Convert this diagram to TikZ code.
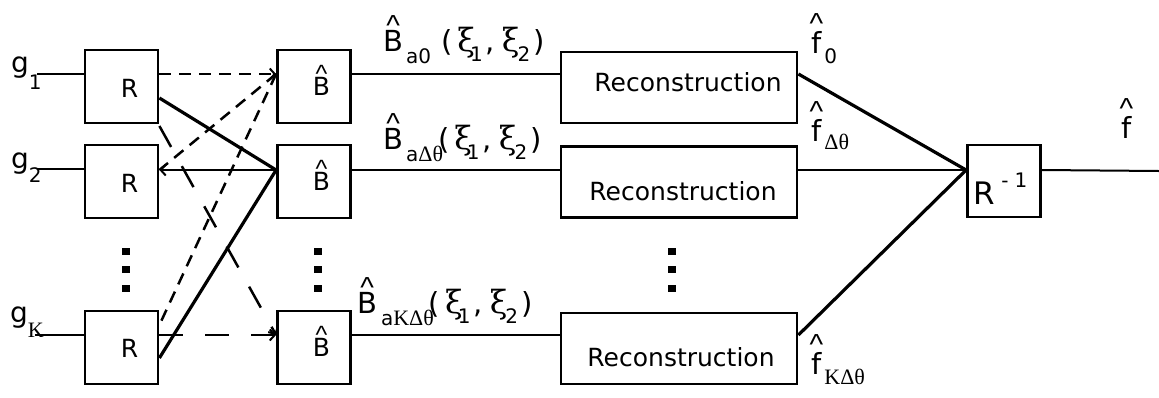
\documentclass[tikz,border=0pt]{standalone}
\usepackage{fontspec}
\setmainfont{DejaVu Sans}
\newfontfamily\gr{Liberation Serif}
\newfontfamily\grb{DejaVu Serif}
\newfontfamily\lib{Liberation Sans}
\usetikzlibrary{arrows.meta}
\newcommand{\hatx}[2][0.54em]{\ooalign{#2\cr\hidewidth\raisebox{#1}{\lib\textasciicircum}\hidewidth\cr}}
\newcommand{\sbx}[2][-12pt]{\raisebox{#1}{\fontsize{20}{20}\selectfont #2}}
\newcommand{\gsb}[1]{{\gr\fontsize{22}{22}\selectfont #1}}
\newcommand{\xii}{{\grb\fontsize{32}{32}\selectfont ξ}}
\newcommand{\args}{(\hspace{5pt}\xii\hspace{-5pt}\sbx[-10pt]{1}\hspace{3pt},\hspace{7pt}\xii\hspace{-2pt}\sbx[-10pt]{2}\hspace{3pt})}
\tikzset{
  box/.style={draw, line width=2.8pt, minimum width=73pt, minimum height=73pt, inner sep=0pt, font=\fontsize{25}{25}\selectfont},
  rec/.style={draw, line width=2.8pt, minimum width=236pt, minimum height=71pt, inner sep=0pt, font=\fontsize{25}{25}\selectfont},
  wire/.style={line width=2pt},
  thk/.style={line width=3.2pt},
  dsh/.style={line width=2.5pt, dash pattern=on 12pt off 8pt},
  ldsh/.style={line width=2.5pt, dash pattern=on 24pt off 22pt},
  tip/.style={-{Straight Barb[length=5pt,width=11pt,line width=2pt]}},
  lbl/.style={inner sep=0pt, font=\fontsize{29}{29}\selectfont},
  glbl/.style={inner sep=0pt, font=\fontsize{28}{28}\selectfont},
}
\begin{document}
\begin{tikzpicture}[x=1pt,y=-1pt]
\useasboundingbox (0,0) rectangle (1159,397);
% boxes
\node[box, text height=22pt, text depth=0pt] (R1) at (121.5,86.5) {\hspace*{16pt}R};
\node[box, text height=22pt, text depth=0pt] (R2) at (121.5,181.5) {\hspace*{16pt}R};
\node[box, text height=19pt, text depth=0pt] (RK) at (121.5,347.5) {\hspace*{16pt}R};
\node[box, text height=18pt, text depth=0pt] (B1) at (314,86.5) {\hspace*{15pt}\hatx[0.52em]{B}};
\node[box, text height=18pt, text depth=0pt] (B2) at (314,181.5) {\hspace*{15pt}\hatx[0.52em]{B}};
\node[box, text height=18pt, text depth=0pt] (BK) at (314,347.5) {\hspace*{15pt}\hatx[0.52em]{B}};
\node[rec, text height=18pt, text depth=10pt] (Rec1) at (679,87.5) {\hspace*{18pt}Reconstruction};
\node[rec, text height=37pt, text depth=0pt] (Rec2) at (679,182) {\hspace*{8pt}Reconstruction};
\node[rec, text height=35pt, text depth=0pt] (RecK) at (679,348.5) {\hspace*{4pt}Reconstruction};
\node[box, minimum width=73pt, minimum height=72pt, text height=47pt, text depth=0pt, font=\fontsize{31}{31}\selectfont] (Rinv) at (1004,181)
  {R\hspace{6pt}\raisebox{17pt}{\fontsize{20}{20}\selectfont -\hspace{6pt}1}\hspace*{7pt}};
% rows
\coordinate (y1) at (0,74);
\coordinate (y2) at (0,170);
\coordinate (yK) at (0,335);
\coordinate (h98) at (0,98);
\coordinate (h325) at (0,325);
\coordinate (h358) at (0,358);
\coordinate (h126) at (0,126);
\coordinate (g1s) at (37,74);
\coordinate (g2s) at (37,169);
\coordinate (gKs) at (35,335);
\coordinate (out) at (1159,171);
% g labels
\node[glbl, anchor=base west] (g1) at (11,72) {g\sbx[-17pt]{1}};
\node[glbl, anchor=base west] (g2) at (11,168) {g\sbx[-14pt]{2}};
\node[glbl, anchor=base west] (gK) at (10,322) {g\sbx[-15pt]{\gsb{K}}};
% inputs
\draw[wire] (g1s) -- (R1.west |- g1s);
\draw[wire] (g2s) -- (R2.west |- g2s);
\draw[wire] (gKs) -- (RK.west |- gKs);
% R -> B connections
\draw[dsh, tip] (R1.east |- y1) -- (B1.west |- y1);
\draw[thk] (R1.east |- h98) -- (B2.west |- y2);
\draw[dsh] (B1.west |- y1) -- (R2.east |- y2);
\draw[dsh] (B1.west |- y1) -- (RK.east |- h325);
\draw[wire, tip] (B2.west |- y2) -- (R2.east |- y2);
\draw[thk] (RK.east |- h358) -- (B2.west |- y2);
\draw[ldsh, tip] (R1.east |- h126) -- (BK.west |- yK);
\draw[ldsh, tip] (RK.east |- yK) -- (BK.west |- yK);
% dots
\foreach \yy in {248,266,285}{
  \fill (122,\yy) rectangle (130,\yy+7);
  \fill (314,\yy) rectangle (322,\yy+7);
  \fill (668,\yy) rectangle (676,\yy+7);
}
% B -> Rec
\draw[wire] (B1.east |- y1) -- (Rec1.west |- y1);
\draw[wire] (B2.east |- y2) -- (Rec2.west |- y2);
\draw[wire] (BK.east |- yK) -- (RecK.west |- yK);
% Rec -> Rinv
\draw[thk] (Rec1.east |- y1) -- (Rinv.west |- y2);
\draw[wire] (Rec2.east |- y2) -- (Rinv.west |- y2);
\draw[thk] (RecK.east |- yK) -- (Rinv.west |- y2);
\draw[wire] (Rinv.east |- y2) -- (out);
% B labels
\node[lbl, anchor=base west] (lb1) at (383,51)
  {\hatx{B}\hspace{3pt}\sbx{a0}\hspace{10pt}\args};
\node[lbl, anchor=base west] (lb2) at (383,149)
  {\hatx{B}\hspace{3pt}\sbx{a\gsb{Δθ}}\hspace{-5pt}\args};
\node[lbl, anchor=base west] (lbK) at (357,313)
  {\hatx{B}\hspace{4pt}\sbx{a\gsb{KΔθ}}\hspace{-5pt}\args};
% f labels
\node[lbl, anchor=base west] (f0) at (811,53) {\hatx[0.67em]{f}\hspace{3pt}\sbx[-10pt]{0}};
\node[lbl, anchor=base west] (fd) at (811,141) {\hatx[0.67em]{f}\hspace{3pt}\sbx[-8pt]{\gsb{Δθ}}};
\node[lbl, anchor=base west] (fK) at (811,374) {\hatx[0.67em]{f}\hspace{3pt}\sbx[-10pt]{\gsb{KΔθ}}};
\node[lbl, anchor=base west] (fo) at (1121,138) {\hatx[0.67em]{f}};
\end{tikzpicture}
\end{document}
